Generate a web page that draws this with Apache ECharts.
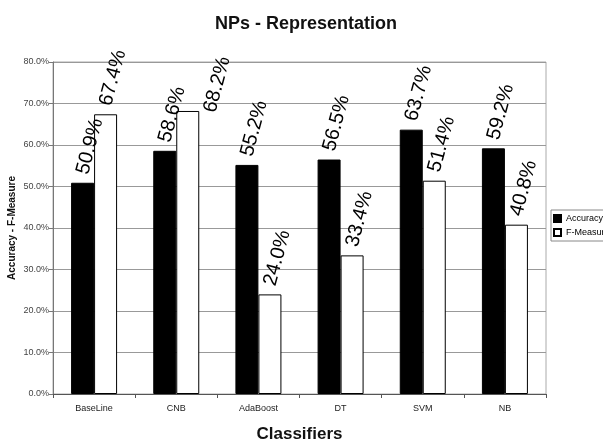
<!DOCTYPE html>
<html><head><meta charset="utf-8">
<script src="https://cdn.jsdelivr.net/npm/echarts@6/dist/echarts.min.js"></script>
<style>html,body{margin:0;padding:0;background:#fff}#c{width:603px;height:444px}</style>
</head><body><div id="c"></div>
<script>
const categories = ['BaseLine','CNB','AdaBoost','DT','SVM','NB'];
const accuracy = [50.9, 58.6, 55.2, 56.5, 63.7, 59.2];
const fMeasure = [67.4, 68.2, 24.0, 33.4, 51.4, 40.8];
const seriesNames = ['Accuracy','F-Measure'];

const font = 'Liberation Sans, Arial, sans-serif';
const chart = echarts.init(document.getElementById('c'));
const lbl = {
  show: true, position: 'top', distance: 9, rotate: 75,
  align: 'left', verticalAlign: 'middle',
  fontSize: 20, color: '#000', fontFamily: font,
  formatter: p => p.value.toFixed(1) + '%'
};
// the CNB F-Measure label sits beside its bar (as in the original) to avoid overlapping
const fData = fMeasure.map((v, i) => i === 1 ? { value: v, label: { offset: [-4, 24] } } : v);
chart.setOption({
  animation: false,
  title: { text: 'NPs - Representation', left: 301, top: 10, textAlign: 'center',
    textStyle: { fontSize: 18, fontWeight: 'bold', color: '#111', fontFamily: font } },
  legend: {
    orient: 'vertical', left: 551, top: 210,
    itemWidth: 7, itemHeight: 7, itemGap: 5,
    borderColor: '#888', borderWidth: 1, padding: [4, 3, 4, 2],
    textStyle: { fontSize: 9, color: '#000', fontFamily: font },
    icon: 'rect',
    data: seriesNames
  },
  grid: { left: 53, right: 57, top: 62, bottom: 50, outerBoundsMode: 'none', show: true, borderColor: '#aaa', borderWidth: 1 },
  xAxis: {
    type: 'category', data: categories,
    name: 'Classifiers', nameLocation: 'middle', nameGap: 32,
    nameTextStyle: { fontSize: 17, fontWeight: 'bold', color: '#111', fontFamily: font },
    axisLine: { lineStyle: { color: '#555' } },
    axisTick: { show: true, length: 4, lineStyle: { color: '#555' } },
    axisLabel: { fontSize: 9, color: '#222', margin: 10, fontFamily: font }
  },
  yAxis: {
    type: 'value', min: 0, max: 80, interval: 10,
    name: 'Accuracy - F-Measure', nameLocation: 'middle', nameGap: 36, nameMoveOverlap: false,
    nameTextStyle: { fontSize: 10, fontWeight: 'bold', color: '#111', fontFamily: font },
    axisLine: { show: true, lineStyle: { color: '#777' } },
    axisTick: { show: true, length: 4, lineStyle: { color: '#777' } },
    axisLabel: { fontSize: 9, color: '#444', margin: 4, fontFamily: font, formatter: v => v.toFixed(1) + '%' },
    splitLine: { lineStyle: { color: '#999' } }
  },
  series: [
    { name: seriesNames[0], type: 'bar', data: accuracy, barWidth: 23, barGap: '0%',
      itemStyle: { color: '#000', borderColor: '#000', borderWidth: 1 }, label: lbl },
    { name: seriesNames[1], type: 'bar', data: fData, barWidth: 23,
      itemStyle: { color: '#fff', borderColor: '#000', borderWidth: 1 }, label: lbl }
  ]
});
</script></body></html>
